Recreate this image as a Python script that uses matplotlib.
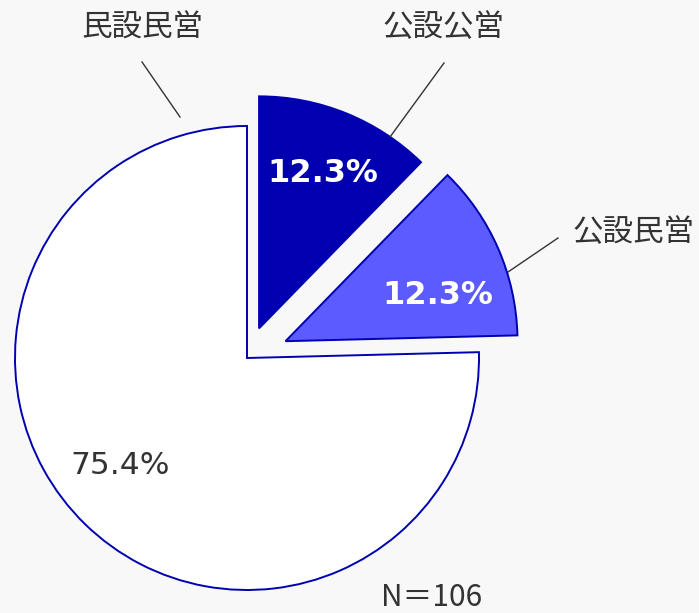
"""Pie chart: 公設公営 / 公設民営 / 民設民営 share (N=106)."""
import matplotlib

matplotlib.use("Agg")
import matplotlib.pyplot as plt

plt.rcParams["font.family"] = ["Noto Sans CJK JP", "DejaVu Sans"]
NUM_FONT = ["DejaVu Sans", "Noto Sans CJK JP"]

labels = ["公設公営", "公設民営", "民設民営"]
shares = [12.3, 12.3, 75.4]
n_total = 106

colors = ["#0000B0", "#5B5BFF", "#FFFFFF"]
edges = ["#0000B0", "#0000B0", "#0000B0"]
BG = "#F8F8F8"
TXT = "#333333"

W, H = 699, 613
fig = plt.figure(figsize=(W / 100, H / 100), dpi=100, facecolor=BG)
ax = fig.add_axes([0, 0, 1, 1])
ax.set_facecolor(BG)

cx, cy, r = 247, H - 358, 232
# pie's explode offset is in data units, here pixels
explode = [32, 42, 0]
wedges, _, autotexts = ax.pie(
    shares, labels=None, colors=colors, explode=explode, startangle=90,
    counterclock=False, center=(cx, cy), radius=r, autopct="%.1f%%",
    pctdistance=0.7, wedgeprops=dict(linewidth=1.4),
    textprops=dict(fontsize=22.5, family=NUM_FONT),
)
for w, ec in zip(wedges, edges):
    w.set_edgecolor(ec)

# percent labels, nudged to where the reference puts them
pct_pos = [(323, H - 173), (438, H - 295), (120, H - 465)]
for i, (t, (x, y)) in enumerate(zip(autotexts, pct_pos)):
    t.set_position((x, y))
    t.set_ha("center")
    t.set_va("center")
    if i < 2:
        t.set_color("white")
        t.set_fontweight("bold")
        t.set_fontsize(23)
    else:
        t.set_color(TXT)

# category labels with leader lines
label_pos = [(443, H - 28), (633, H - 233), (142, H - 28)]
leaders = [((444, H - 63), (390, H - 137)),
           ((558, H - 238), (508, H - 272)),
           ((142, H - 62), (180, H - 117))]
for name, (x, y), (p0, p1) in zip(labels, label_pos, leaders):
    ax.text(x, y, name, ha="center", va="center", fontsize=22, color=TXT)
    ax.plot([p0[0], p1[0]], [p0[1], p1[1]], color=TXT, lw=1)

ax.text(432, H - 598, f"N＝{n_total}", ha="center", va="center",
        fontsize=21.5, color=TXT)

ax.set_xlim(0, W)
ax.set_ylim(0, H)
ax.set_axis_off()
fig.savefig("out.png", dpi=100, facecolor=BG)
